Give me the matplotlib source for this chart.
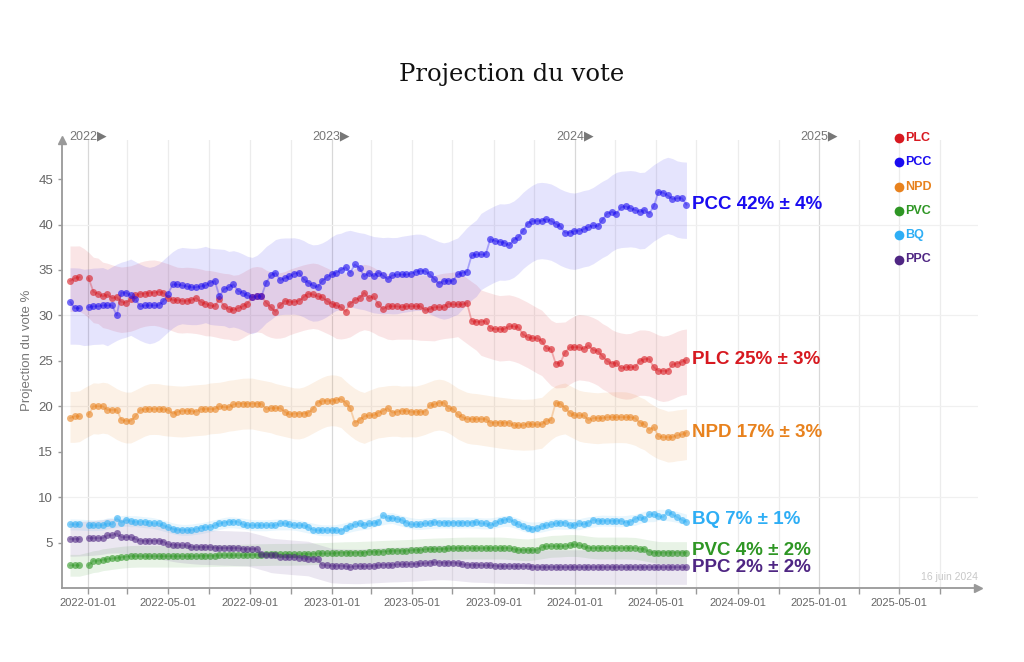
import numpy as np
import pandas as pd
import matplotlib
matplotlib.use('Agg')
import matplotlib.pyplot as plt
import matplotlib.dates as mdates
import matplotlib.transforms as mtransforms

plt.rcParams['font.family'] = ['Liberation Sans', 'DejaVu Sans']

nan = np.nan

# weekly projection points (the week of 2021-12-26 is missing)
dates = pd.date_range('2021-12-05', periods=133, freq='7D')

parties = ['PLC', 'PCC', 'NPD', 'PVC', 'BQ', 'PPC']
colors = ['#d71920', '#1a0cf0', '#e8821e', '#2e9624', '#2eaef5', '#4f2683']

plc = [33.8, 34.1, 34.2, nan, 34.1, 32.6, 32.4, 32.1, 32.3, 31.9,
       32.0, 31.5, 31.4, 31.8, 32.2, 32.4, 32.4, 32.5, 32.5, 32.6,
       32.5, 31.9, 31.7, 31.7, 31.6, 31.6, 31.7, 31.9, 31.5, 31.3,
       31.1, 31.0, 31.8, 31.0, 30.7, 30.6, 30.8, 31.0, 31.3, 32.0,
       32.1, 32.1, 31.4, 30.9, 30.4, 31.1, 31.6, 31.5, 31.5, 31.6,
       32.0, 32.4, 32.3, 32.1, 32.0, 31.6, 31.3, 31.1, 30.9, 30.4,
       31.3, 31.7, 31.9, 32.5, 31.9, 32.1, 31.2, 30.7, 31.0, 31.0,
       31.0, 30.9, 31.0, 31.0, 31.0, 31.0, 30.6, 30.7, 30.9, 30.9,
       30.9, 31.3, 31.2, 31.2, 31.2, 31.4, 29.4, 29.3, 29.3, 29.4,
       28.6, 28.5, 28.5, 28.5, 28.8, 28.8, 28.7, 27.9, 27.6, 27.5,
       27.5, 27.2, 26.4, 26.3, 24.7, 24.8, 25.9, 26.5, 26.5, 26.5,
       26.3, 26.7, 26.2, 26.1, 25.5, 25.0, 24.7, 24.8, 24.2, 24.3,
       24.3, 24.3, 25.0, 25.2, 25.2, 24.3, 23.9, 23.9, 23.9, 24.6,
       24.7, 24.9, 25.1]

pcc = [31.5, 30.8, 30.8, nan, 30.9, 31.0, 31.0, 31.1, 31.1, 31.1,
       30.0, 32.5, 32.5, 32.2, 31.8, 31.0, 31.1, 31.1, 31.1, 31.1,
       31.6, 32.4, 33.4, 33.4, 33.3, 33.2, 33.1, 33.1, 33.2, 33.3,
       33.6, 33.8, 32.1, 32.9, 33.1, 33.4, 32.7, 32.5, 32.2, 32.0,
       32.1, 32.1, 33.6, 34.4, 34.7, 33.9, 34.1, 34.3, 34.6, 34.7,
       34.0, 33.6, 33.3, 33.1, 33.8, 34.2, 34.5, 34.7, 35.0, 35.3,
       34.7, 35.6, 35.2, 34.3, 34.7, 34.3, 34.7, 34.4, 34.0, 34.4,
       34.5, 34.5, 34.5, 34.6, 34.8, 34.9, 34.9, 34.5, 34.0, 33.5,
       33.8, 33.8, 33.8, 34.5, 34.7, 34.8, 36.6, 36.7, 36.7, 36.7,
       38.4, 38.2, 38.1, 38.0, 37.7, 38.3, 38.6, 39.3, 40.1, 40.4,
       40.4, 40.4, 40.6, 40.4, 40.1, 39.8, 39.1, 39.1, 39.3, 39.3,
       39.5, 39.7, 39.9, 39.8, 40.5, 41.2, 41.4, 41.2, 41.9, 42.0,
       41.8, 41.6, 41.4, 41.6, 41.2, 42.0, 43.6, 43.5, 43.2, 42.8,
       42.9, 42.9, 42.2]

npd = [18.7, 18.9, 18.9, nan, 19.1, 20.0, 20.0, 20.0, 19.6, 19.6,
       19.6, 18.5, 18.4, 18.4, 18.9, 19.6, 19.7, 19.7, 19.7, 19.7,
       19.7, 19.6, 19.2, 19.4, 19.5, 19.5, 19.5, 19.4, 19.7, 19.7,
       19.7, 19.7, 20.0, 19.9, 19.9, 20.2, 20.3, 20.3, 20.3, 20.3,
       20.3, 20.3, 19.7, 19.8, 19.8, 19.8, 19.4, 19.1, 19.2, 19.2,
       19.2, 19.3, 19.7, 20.4, 20.6, 20.6, 20.6, 20.7, 20.8, 20.4,
       19.8, 18.2, 18.5, 18.9, 19.0, 19.0, 19.3, 19.5, 19.8, 19.3,
       19.4, 19.5, 19.5, 19.4, 19.4, 19.4, 19.4, 20.1, 20.2, 20.4,
       20.4, 19.8, 19.7, 19.1, 18.8, 18.6, 18.6, 18.6, 18.6, 18.6,
       18.2, 18.2, 18.2, 18.2, 18.2, 17.9, 17.9, 17.9, 18.1, 18.0,
       18.0, 18.0, 18.4, 18.5, 20.4, 20.3, 19.8, 19.3, 19.0, 19.0,
       19.0, 18.5, 18.7, 18.7, 18.7, 18.8, 18.8, 18.8, 18.8, 18.8,
       18.8, 18.7, 18.2, 18.0, 17.4, 17.7, 16.7, 16.6, 16.6, 16.6,
       16.8, 16.9, 17.1]

pvc = [2.5, 2.5, 2.5, nan, 2.5, 3.0, 3.0, 3.1, 3.2, 3.25,
       3.3, 3.4, 3.45, 3.5, 3.5, 3.5, 3.5, 3.5, 3.5, 3.5,
       3.5, 3.5, 3.5, 3.5, 3.5, 3.5, 3.5, 3.5, 3.55, 3.55,
       3.55, 3.55, 3.6, 3.6, 3.6, 3.6, 3.6, 3.6, 3.65, 3.65,
       3.65, 3.65, 3.7, 3.7, 3.7, 3.7, 3.7, 3.7, 3.7, 3.7,
       3.75, 3.75, 3.75, 3.8, 3.8, 3.8, 3.8, 3.85, 3.9, 3.9,
       3.9, 3.9, 3.9, 3.9, 4.0, 4.0, 4.0, 4.0, 4.05, 4.1,
       4.1, 4.1, 4.1, 4.15, 4.2, 4.2, 4.25, 4.3, 4.3, 4.3,
       4.3, 4.35, 4.35, 4.4, 4.4, 4.4, 4.4, 4.4, 4.4, 4.4,
       4.4, 4.4, 4.4, 4.4, 4.4, 4.3, 4.2, 4.2, 4.2, 4.2,
       4.2, 4.5, 4.6, 4.6, 4.6, 4.6, 4.6, 4.7, 4.8, 4.7,
       4.6, 4.4, 4.4, 4.4, 4.4, 4.4, 4.4, 4.4, 4.4, 4.4,
       4.4, 4.4, 4.3, 4.3, 4.0, 3.9, 3.9, 3.9, 3.9, 3.9,
       3.9, 3.9, 3.9]

bq = [7.0, 7.0, 7.0, nan, 6.9, 6.9, 6.9, 6.9, 7.1, 7.0,
      7.7, 7.2, 7.5, 7.4, 7.3, 7.3, 7.3, 7.2, 7.1, 7.1,
      6.9, 6.7, 6.5, 6.4, 6.35, 6.35, 6.4, 6.5, 6.6, 6.7,
      6.7, 6.9, 7.1, 7.2, 7.3, 7.3, 7.3, 7.0, 6.9, 6.9,
      6.9, 6.9, 6.9, 6.9, 6.9, 7.1, 7.1, 7.0, 6.9, 6.9,
      6.9, 6.7, 6.4, 6.35, 6.35, 6.35, 6.35, 6.35, 6.3, 6.6,
      6.8, 7.0, 7.1, 6.9, 7.1, 7.1, 7.3, 8.0, 7.7, 7.7,
      7.6, 7.5, 7.2, 7.0, 7.0, 7.0, 7.1, 7.1, 7.3, 7.2,
      7.2, 7.2, 7.2, 7.2, 7.2, 7.2, 7.2, 7.3, 7.1, 7.1,
      6.9, 7.1, 7.4, 7.5, 7.6, 7.3, 7.0, 6.8, 6.6, 6.5,
      6.6, 6.8, 6.9, 7.0, 7.1, 7.2, 7.2, 6.9, 6.9, 7.1,
      7.0, 7.2, 7.5, 7.4, 7.4, 7.4, 7.4, 7.4, 7.4, 7.2,
      7.3, 7.6, 7.8, 7.6, 8.1, 8.1, 7.9, 7.8, 8.4, 8.1,
      7.8, 7.5, 7.3]

ppc = [5.4, 5.4, 5.4, nan, 5.5, 5.5, 5.5, 5.5, 5.8, 5.8,
       6.0, 5.6, 5.6, 5.6, 5.4, 5.2, 5.2, 5.2, 5.2, 5.2,
       5.1, 4.8, 4.75, 4.75, 4.7, 4.7, 4.5, 4.5, 4.5, 4.5,
       4.5, 4.45, 4.4, 4.4, 4.4, 4.4, 4.4, 4.3, 4.3, 4.3,
       4.3, 3.7, 3.65, 3.6, 3.6, 3.45, 3.4, 3.4, 3.4, 3.35,
       3.25, 3.2, 3.2, 3.2, 2.5, 2.5, 2.45, 2.45, 2.45, 2.4,
       2.3, 2.4, 2.4, 2.4, 2.4, 2.45, 2.5, 2.55, 2.55, 2.55,
       2.6, 2.6, 2.6, 2.65, 2.65, 2.7, 2.7, 2.8, 2.85, 2.8,
       2.8, 2.8, 2.8, 2.75, 2.6, 2.55, 2.55, 2.55, 2.5, 2.5,
       2.5, 2.45, 2.4, 2.4, 2.4, 2.4, 2.4, 2.4, 2.4, 2.35,
       2.3, 2.3, 2.3, 2.3, 2.3, 2.3, 2.3, 2.3, 2.3, 2.3,
       2.3, 2.3, 2.3, 2.3, 2.3, 2.3, 2.3, 2.3, 2.3, 2.3,
       2.3, 2.3, 2.3, 2.3, 2.3, 2.3, 2.3, 2.3, 2.3, 2.3,
       2.3, 2.3, 2.3]

series = [plc, pcc, npd, pvc, bq, ppc]
final_pct = [25, 42, 17, 4, 7, 2]
margin_pct = [3, 4, 3, 2, 1, 2]
band_hw = [3.6, 4.2, 2.8, 1.2, 0.6, 1.9]   # half width of the shaded band

grey = '#999999'

fig = plt.figure(figsize=(10.24, 6.62), dpi=100)
ax = fig.add_axes([62 / 1024, 1 - 588 / 662, (978 - 62) / 1024, (588 - 140) / 662])

ax.set_xlim(pd.Timestamp('2021-11-23'), pd.Timestamp('2025-08-27'))
ax.set_ylim(0, 49.3)

# grid
for d in pd.date_range('2022-01-01', '2025-07-01', freq='2MS'):
    c = '#d8d8d8' if d.month == 1 else '#ececec'
    ax.axvline(d, color=c, lw=0.9, zorder=0)
for yv in [10, 20, 30, 40]:
    ax.axhline(yv, color='#f0f0f0', lw=0.9, zorder=0)

# series
for name, vals, c, hw in zip(parties, series, colors, band_hw):
    s = pd.Series(vals, index=dates)
    lo = (s - hw).rolling(5, center=True, min_periods=1).mean()
    hi = (s + hw).rolling(5, center=True, min_periods=1).mean()
    lo = lo.interpolate()
    hi = hi.interpolate()
    ax.fill_between(dates, lo, hi, color=c, alpha=0.11, lw=0, zorder=1)
    ax.plot(dates, vals, '-', color=c, alpha=0.3, lw=1.3, zorder=2)
    ax.plot(dates, vals, 'o', color=c, alpha=0.6, ms=5, mec='none', zorder=3)

# end labels
for name, vals, c, p, m in zip(parties, series, colors, final_pct, margin_pct):
    yv = vals[-1]
    if name == 'PVC':
        yv += 0.2
    if name == 'BQ':
        yv += 0.2
    ax.text(dates[-1] + pd.Timedelta(days=9), yv, f'{name} {p}% ± {m}%',
            color=c, fontsize=13.5, fontweight='bold', va='center', ha='left')

# axes styling
for sp in ['top', 'right']:
    ax.spines[sp].set_visible(False)
for sp in ['left', 'bottom']:
    ax.spines[sp].set_color(grey)
    ax.spines[sp].set_linewidth(1.3)
ax.plot([1], [0], '>', transform=ax.transAxes, clip_on=False, color=grey, ms=6)
ax.plot([0], [1], '^', transform=ax.transAxes, clip_on=False, color=grey, ms=6)

xt = pd.date_range('2022-01-01', '2025-07-01', freq='2MS')
ax.set_xticks(xt)
ax.set_xticklabels([d.strftime('%Y-%m-%d') if d.month in (1, 5, 9) else '' for d in xt])
ax.set_yticks([5, 10, 15, 20, 25, 30, 35, 40, 45])
ax.tick_params(axis='x', colors=grey, labelcolor='#666666', labelsize=8, length=4, width=1)
ax.tick_params(axis='y', colors=grey, labelcolor='#666666', labelsize=9.5, length=3, width=1)

# year markers above the plot
trans = mtransforms.blended_transform_factory(ax.transData, ax.transAxes)
for yr in [2022, 2023, 2024, 2025]:
    ax.text(pd.Timestamp(f'{yr}-01-01'), 1.008, f'{yr}\u25b6', transform=trans,
            ha='center', va='center', fontsize=9, color='#777777')

ax.text(1.0, 0.024, '16 juin 2024', transform=ax.transAxes, ha='right', va='center',
        fontsize=7.5, color='#c8c8c8')

# legend
for k, (name, c) in enumerate(zip(parties, colors)):
    yy = 1 - (138 + 24.3 * k) / 662
    fig.add_artist(plt.Line2D([899 / 1024], [yy], marker='o', color=c, ms=7,
                              mec='none', transform=fig.transFigure))
    fig.text(905 / 1024, yy, name, color=c, fontsize=9, fontweight='bold', va='center')

fig.text(0.5, 1 - 75 / 662, 'Projection du vote', ha='center', va='center',
         family='DejaVu Serif', fontsize=17.5, color='#111111')
fig.text(27 / 1024, 1 - 350 / 662, 'Projection du vote %', rotation=90, ha='center',
         va='center', fontsize=9.5, color='#777777')

fig.savefig('out.png', dpi=100)
